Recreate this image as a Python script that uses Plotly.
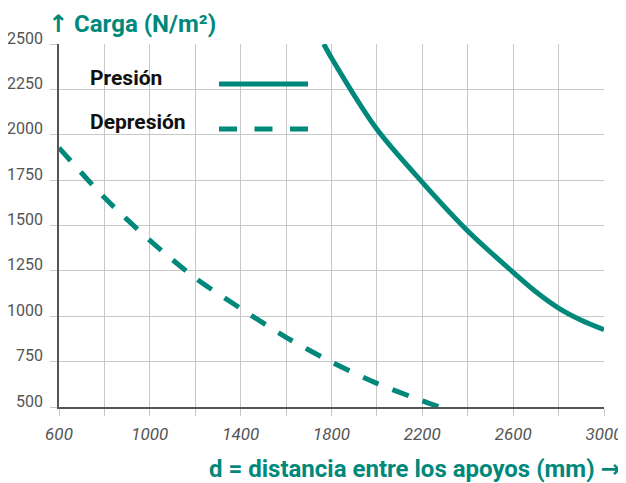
import plotly.graph_objects as go

# Data
d_presion = [1766, 1800, 2000, 2200, 2400, 2600, 2700, 2800, 2900, 3000]
carga_presion = [2500, 2423, 2030, 1738, 1470, 1242, 1135, 1045, 978, 926]

d_depresion = [600, 800, 1000, 1200, 1400, 1600, 1800, 2000, 2200, 2277]
carga_depresion = [1928, 1654, 1418, 1211, 1043, 884, 748, 630, 534, 500]

x_ticks = [600, 1000, 1400, 1800, 2200, 2600, 3000]
y_ticks = [500, 750, 1000, 1250, 1500, 1750, 2000, 2250, 2500]

TEAL = "#00897b"
GRID = "#c8c8c8"
AXIS = "#555555"
LABEL = "#555555"

# plot area in page pixels (page has an 8px body offset)
PX0, PX1, PY0, PY1 = 59, 604, 44, 407


def px(x):
    return (x - PX0) / (PX1 - PX0)


def py(y):
    return (PY1 - y) / (PY1 - PY0)


ARROW = "<span style=\"font-family:'DejaVu Sans';font-weight:bold\">{}</span>"

fig = go.Figure()
fig.add_trace(go.Scatter(
    x=d_presion, y=carga_presion, mode="lines", name="Presión",
    line=dict(color=TEAL, width=5, shape="spline", smoothing=0.8),
    showlegend=False,
))
fig.add_trace(go.Scatter(
    x=d_depresion, y=carga_depresion, mode="lines", name="Depresión",
    line=dict(color=TEAL, width=5, dash="17px,15px", shape="spline", smoothing=0.8),
    showlegend=False,
))

# Legend drawn with annotations and shapes (text left of the line sample)
fig.add_annotation(text="<b>Presión</b>", xref="paper", yref="paper",
                   x=px(88), y=py(78), xanchor="left", yanchor="middle",
                   showarrow=False, font=dict(family="Roboto", size=21, color="#111111"))
fig.add_annotation(text="<b>Depresión</b>", xref="paper", yref="paper",
                   x=px(88), y=py(122), xanchor="left", yanchor="middle",
                   showarrow=False, font=dict(family="Roboto", size=21, color="#111111"))
fig.add_shape(type="line", xref="paper", yref="paper",
              x0=px(219), x1=px(308), y0=py(84), y1=py(84),
              line=dict(color=TEAL, width=5))
fig.add_shape(type="line", xref="paper", yref="paper",
              x0=px(219), x1=px(308), y0=py(129), y1=py(129),
              line=dict(color=TEAL, width=5, dash="18px,17.5px"))

# Titles
fig.add_annotation(text=ARROW.format("↑") + "<b> Carga (N/m²)</b>", xref="paper", yref="paper",
                   x=px(46), y=py(24), xanchor="left", yanchor="middle",
                   showarrow=False, font=dict(family="Roboto", size=24, color=TEAL))
fig.add_annotation(text="<b>d = distancia entre los apoyos (mm) </b>" + ARROW.format("→"),
                   xref="paper", yref="paper",
                   x=px(623), y=py(469), xanchor="right", yanchor="middle",
                   showarrow=False, font=dict(family="Roboto", size=24, color=TEAL))

all_x = list(range(600, 3001, 200))
fig.update_xaxes(
    range=[600, 3000], tickmode="array",
    tickvals=all_x,
    ticktext=[str(v) if v in x_ticks else "" for v in all_x],
    showgrid=True, gridcolor=GRID, gridwidth=1.3,
    showline=True, linecolor=AXIS, linewidth=1.5,
    ticks="outside", ticklen=7, tickcolor=GRID, tickwidth=1.3,
    tickfont=dict(family="Roboto", size=17, color=LABEL, style="italic"),
    ticklabelstandoff=4,
    zeroline=False, fixedrange=True, automargin=False,
)
fig.update_yaxes(
    range=[500, 2500], tickmode="array", tickvals=y_ticks,
    ticktext=[str(v) for v in y_ticks],
    showgrid=True, gridcolor=GRID, gridwidth=1.3,
    showline=True, linecolor=AXIS, linewidth=1.5,
    ticks="outside", ticklen=7, tickcolor=GRID, tickwidth=1.3,
    tickfont=dict(family="Roboto", size=16, color=LABEL),
    ticklabelshift=-6, ticklabelstandoff=4,
    zeroline=False, fixedrange=True, automargin=False,
)

fig.update_layout(
    width=618, height=475,
    margin=dict(l=PX0 - 8, r=626 - PX1, t=PY0 - 8, b=483 - PY1),
    paper_bgcolor="white", plot_bgcolor="white",
    showlegend=False,
)

fig.write_html("out.html")
